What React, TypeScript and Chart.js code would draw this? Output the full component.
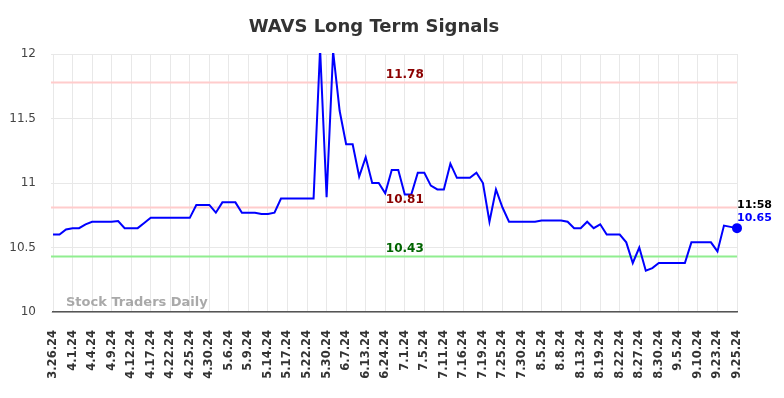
import React, { useEffect, useRef } from 'react';
import { Chart, registerables } from 'chart.js';

Chart.register(...registerables);

const tickLabels: string[] = [
  '3.26.24', '4.1.24', '4.4.24', '4.9.24', '4.12.24', '4.17.24', '4.22.24', '4.25.24',
  '4.30.24', '5.6.24', '5.9.24', '5.14.24', '5.17.24', '5.22.24', '5.30.24', '6.7.24',
  '6.13.24', '6.24.24', '7.1.24', '7.5.24', '7.11.24', '7.16.24', '7.19.24', '7.25.24',
  '7.30.24', '8.5.24', '8.8.24', '8.13.24', '8.19.24', '8.22.24', '8.27.24', '8.30.24',
  '9.5.24', '9.10.24', '9.23.24', '9.25.24',
];

const prices: number[] = [
  10.60, 10.60, 10.64, 10.65, 10.65, 10.68, 10.70, 10.70, 10.70, 10.70,
  10.705, 10.65, 10.65, 10.65, 10.69, 10.73, 10.73, 10.73, 10.73, 10.73,
  10.73, 10.73, 10.83, 10.83, 10.83, 10.77, 10.85, 10.85, 10.85, 10.77,
  10.77, 10.77, 10.76, 10.76, 10.77, 10.88, 10.88, 10.88, 10.88, 10.88,
  10.88, 12.04, 10.89, 12.02, 11.56, 11.30, 11.30, 11.05, 11.20, 11.00,
  11.00, 10.92, 11.10, 11.10, 10.91, 10.91, 11.08, 11.08, 10.98, 10.95,
  10.95, 11.15, 11.04, 11.04, 11.04, 11.08, 11.00, 10.70, 10.95, 10.81,
  10.70, 10.70, 10.70, 10.70, 10.70, 10.71, 10.71, 10.71, 10.71, 10.70,
  10.65, 10.65, 10.70, 10.65, 10.68, 10.60, 10.60, 10.60, 10.54, 10.38,
  10.50, 10.32, 10.34, 10.38, 10.38, 10.38, 10.38, 10.38, 10.54, 10.54,
  10.54, 10.54, 10.47, 10.67, 10.66, 10.65,
];

const levels: number[] = [11.78, 10.81, 10.43];
const levelLabels: string[] = ['11.78', '10.81', '10.43'];
const lastTime = '11:58';
const lastPriceLabel = '10.65';
const titleText = 'WAVS Long Term Signals';
const watermark = 'Stock Traders Daily';

const FONT = "'DejaVu Sans', sans-serif";
const levelLineColors = ['#ffcccc', '#ffcccc', '#90ee90'];
const levelTextColors = ['#8b0000', '#8b0000', '#006400'];
const LABEL_INDEX = 54;

const overlay = {
  id: 'overlay',
  beforeDatasetsDraw(chart: any) {
    const { ctx, chartArea, scales } = chart;
    const y = scales.y;
    ctx.save();
    levels.forEach((lv, k) => {
      const py = y.getPixelForValue(lv);
      ctx.strokeStyle = levelLineColors[k];
      ctx.lineWidth = 2;
      ctx.beginPath();
      ctx.moveTo(chartArea.left - 2, py);
      ctx.lineTo(chartArea.right, py);
      ctx.stroke();
    });
    ctx.font = `bold 13px ${FONT}`;
    ctx.fillStyle = 'rgba(160,160,160,0.9)';
    ctx.textAlign = 'left';
    ctx.textBaseline = 'middle';
    ctx.fillText(watermark, chartArea.left + 13, chartArea.bottom - 9);
    ctx.restore();
  },
  afterDatasetsDraw(chart: any) {
    const { ctx, scales } = chart;
    const x = scales.x;
    const y = scales.y;
    ctx.save();
    ctx.font = `bold 12px ${FONT}`;
    ctx.textAlign = 'center';
    ctx.textBaseline = 'middle';
    levels.forEach((lv, k) => {
      const py = y.getPixelForValue(lv);
      ctx.fillStyle = levelTextColors[k];
      ctx.fillText(levelLabels[k], x.getPixelForValue(LABEL_INDEX), py - 8);
    });
    const li = prices.length - 1;
    const px = x.getPixelForValue(li);
    const py = y.getPixelForValue(prices[li]);
    ctx.font = `bold 11px ${FONT}`;
    ctx.textAlign = 'left';
    ctx.fillStyle = '#000';
    ctx.fillText(lastTime, px, py - 23);
    ctx.fillStyle = '#0000ff';
    ctx.fillText(lastPriceLabel, px, py - 10);
    ctx.font = `bold 18px ${FONT}`;
    ctx.fillStyle = '#333';
    ctx.textAlign = 'center';
    ctx.fillText(titleText, 366, 19);
    ctx.restore();
  },
};

export default function App() {
  const ref = useRef<HTMLCanvasElement>(null);
  useEffect(() => {
    if (!ref.current) return;
    Chart.defaults.font.family = FONT;
    const last = prices.length - 1;
    const chart = new Chart(ref.current, {
      type: 'line',
      data: {
        datasets: [
          {
            data: prices.map((p, i) => ({ x: i, y: p })),
            borderColor: '#0000ff',
            backgroundColor: '#0000ff',
            borderWidth: 2,
            tension: 0,
            clip: { left: 2, top: 1, right: 8, bottom: 2 },
            pointRadius: (c: any) => (c.dataIndex === last ? 4 : 0),
            pointHoverRadius: 0,
          },
        ],
      },
      options: {
        animation: false,
        responsive: true,
        maintainAspectRatio: false,
        layout: { padding: { top: 46, right: 39, left: 0, bottom: 0 } },
        plugins: { legend: { display: false }, tooltip: { enabled: false }, title: { display: false } },
        scales: {
          x: {
            type: 'linear',
            min: 0,
            max: last,
            afterFit: (s: any) => { s.height = 78; },
            grid: { color: '#e8e8e8', drawTicks: false },
            border: { color: '#555', width: 1.5 },
            ticks: {
              stepSize: 3,
              autoSkip: false,
              maxRotation: 90,
              minRotation: 90,
              padding: 18,
              color: '#333',
              font: { size: 11.5, weight: 'bold', family: FONT },
              callback: (v: any) => tickLabels[Math.round(Number(v) / 3)] ?? '',
            },
          },
          y: {
            min: 10,
            max: 12,
            afterFit: (s: any) => { s.width = 45; },
            grid: { color: '#e8e8e8', tickLength: 2 },
            border: { display: false },
            ticks: {
              stepSize: 0.5,
              padding: 15,
              color: '#444',
              font: { size: 12, family: FONT },
              callback: (v: any) => String(Number(v)),
            },
          },
        },
      },
      plugins: [overlay],
    } as any);
    return () => chart.destroy();
  }, []);
  return (
    <div style={{ position: 'relative', width: 768, height: 382 }}>
      <canvas ref={ref} />
    </div>
  );
}
